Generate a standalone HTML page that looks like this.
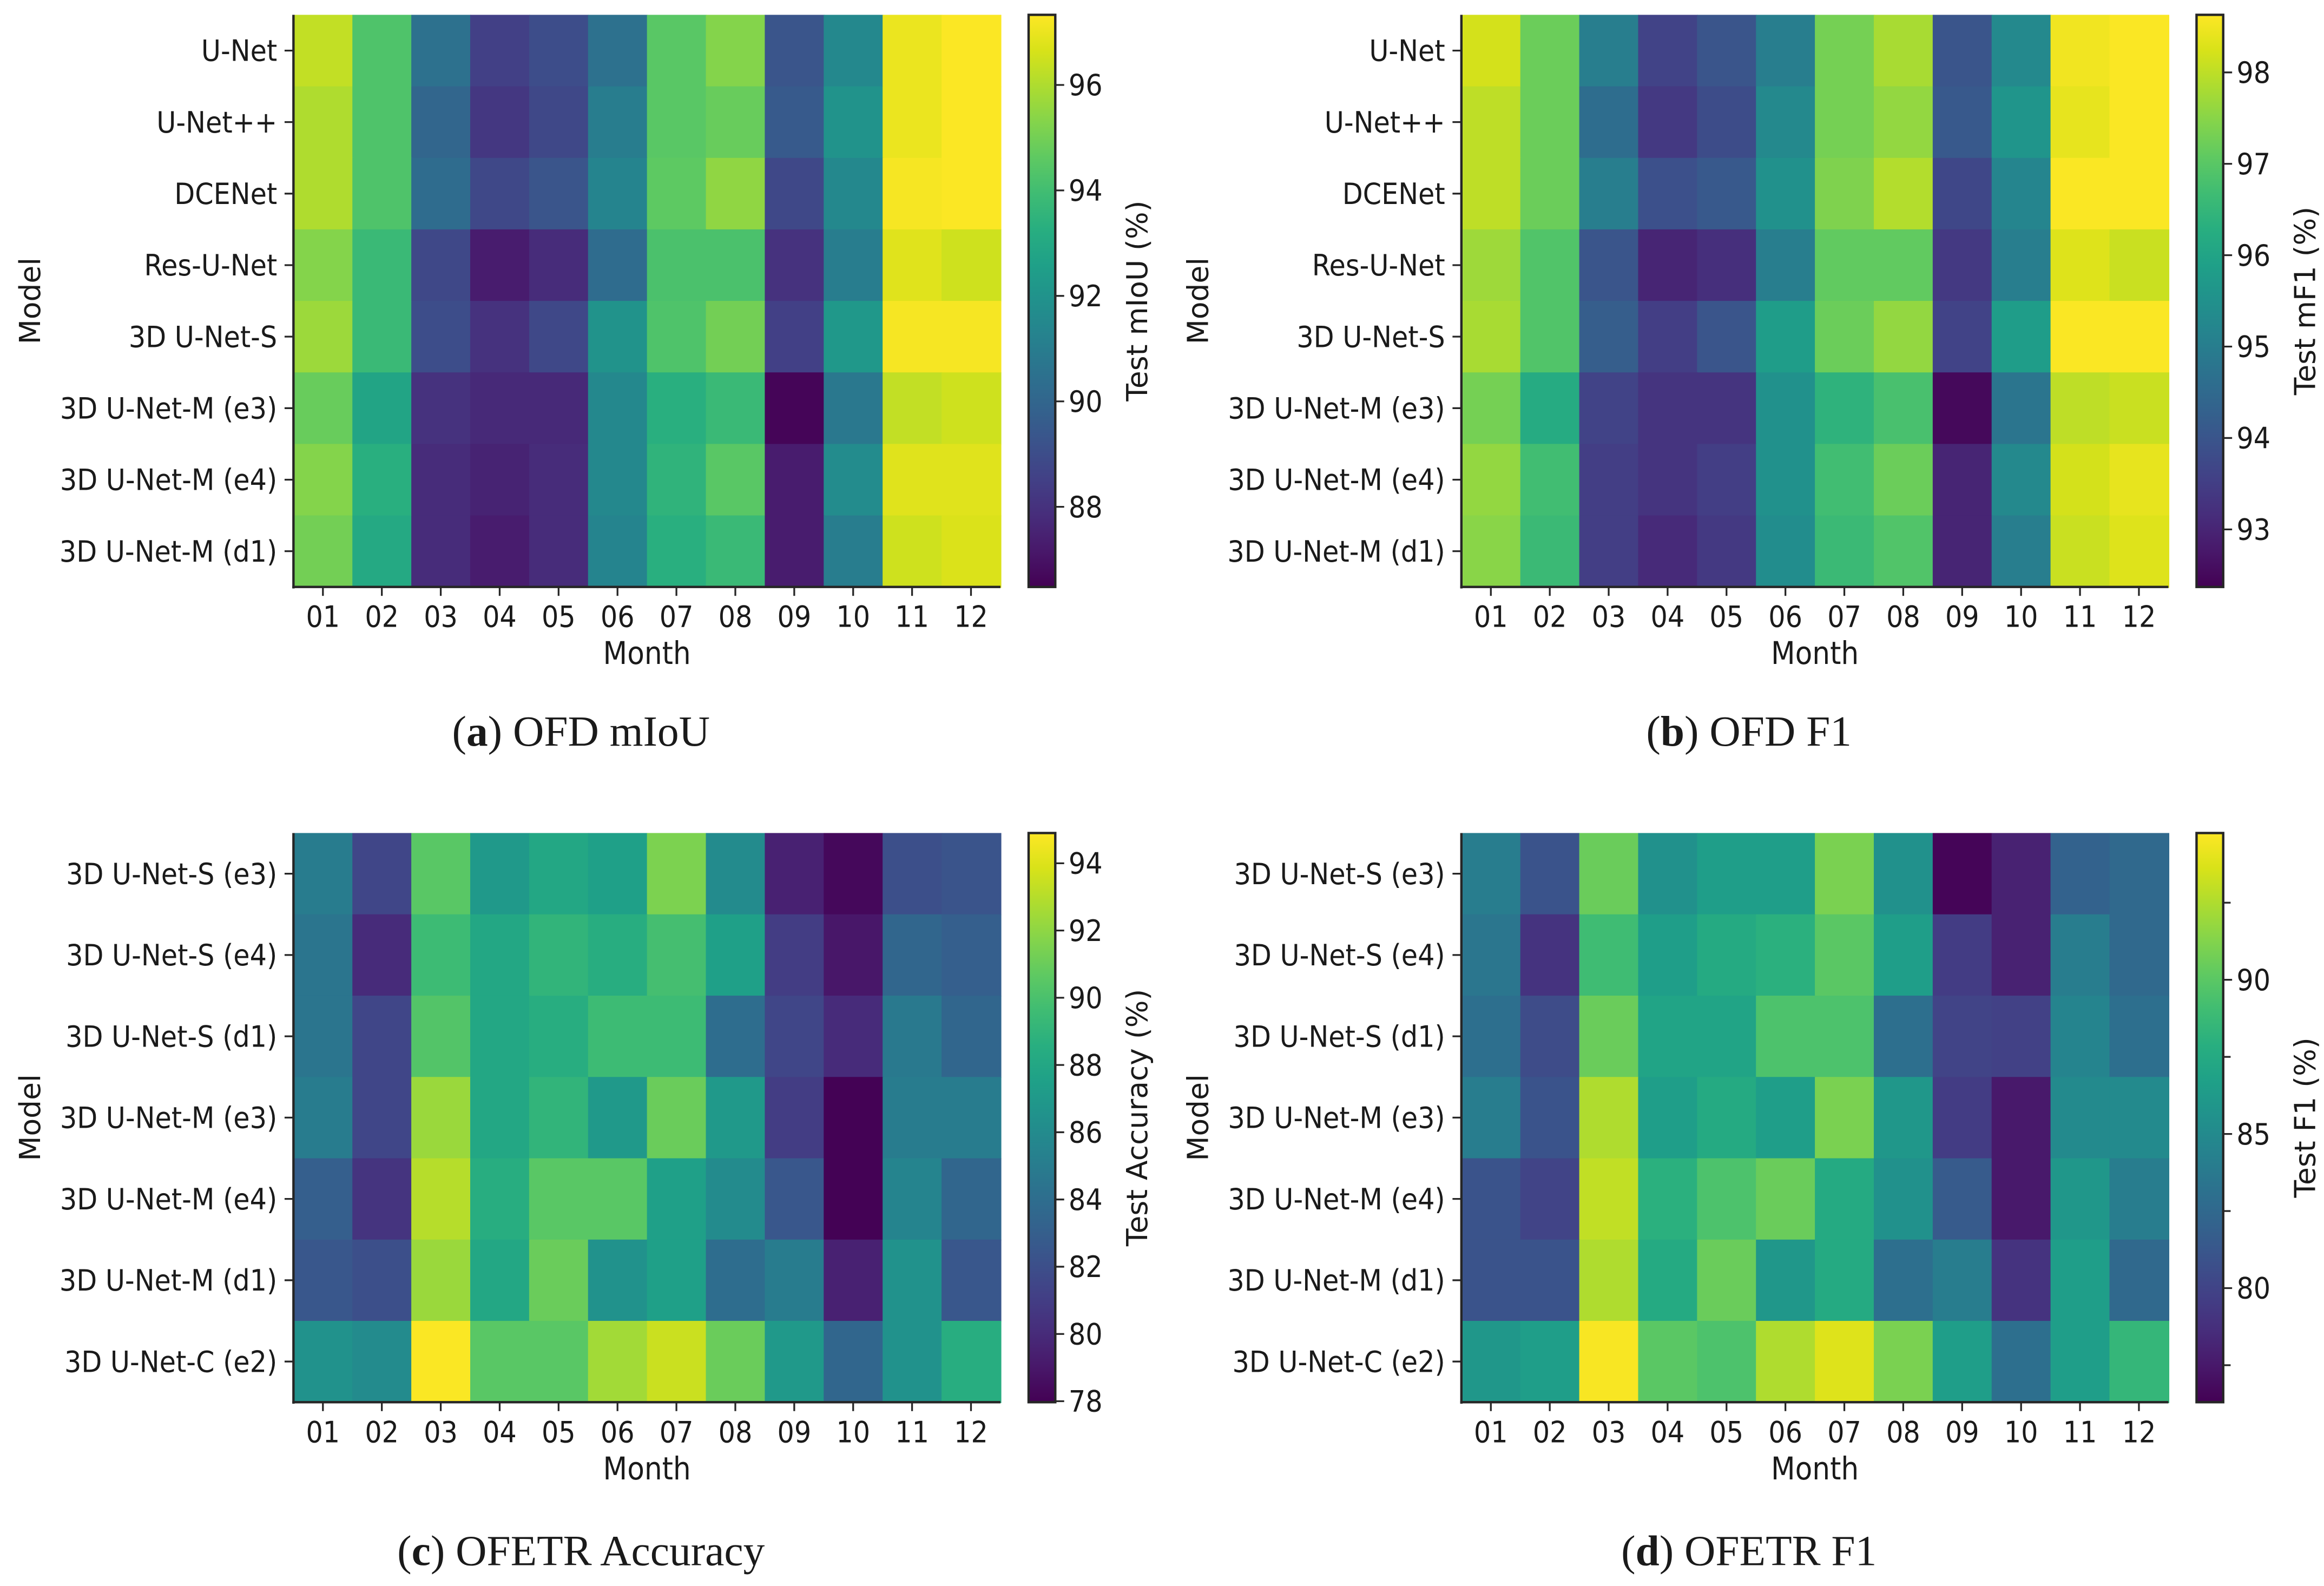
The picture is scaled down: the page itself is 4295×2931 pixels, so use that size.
<!DOCTYPE html>
<html><head><meta charset="utf-8">
<style>
html,body{margin:0;padding:0;background:#fff;}
svg{display:block;}
.tk{font-family:"DejaVu Sans Condensed","DejaVu Sans","Liberation Sans",sans-serif;font-stretch:condensed;font-size:20px;fill:#1a1a1a;}
.al{font-family:"DejaVu Sans","Liberation Sans",sans-serif;font-size:19.5px;fill:#1a1a1a;}
.al2{font-family:"DejaVu Sans Condensed","DejaVu Sans","Liberation Sans",sans-serif;font-stretch:condensed;font-size:21px;fill:#1a1a1a;}
.cap{font-family:"Liberation Serif",serif;font-size:29px;fill:#1a1a1a;}
</style></head>
<body>
<svg id="fig" xmlns="http://www.w3.org/2000/svg" width="4295" height="2931" viewBox="0 0 1568 1070" preserveAspectRatio="none">
<defs>
<linearGradient id="vir" x1="0" y1="1" x2="0" y2="0"></linearGradient>
</defs>
</svg>
<script>
const months = ["01","02","03","04","05","06","07","08","09","10","11","12"];
const modelsTop = ["U-Net","U-Net++","DCENet","Res-U-Net","3D U-Net-S","3D U-Net-M (e3)","3D U-Net-M (e4)","3D U-Net-M (d1)"];
const modelsBot = ["3D U-Net-S (e3)","3D U-Net-S (e4)","3D U-Net-S (d1)","3D U-Net-M (e3)","3D U-Net-M (e4)","3D U-Net-M (d1)","3D U-Net-C (e2)"];
const miouValues = [
 [96.3,94.3,90.5,88.5,89.0,90.5,94.5,95.3,89.3,91.5,97.0,97.3],
 [96.0,94.3,90.0,88.2,88.8,91.0,94.5,94.8,89.5,92.0,97.0,97.3],
 [96.0,94.3,90.3,88.8,89.3,91.3,94.6,95.5,88.8,91.5,97.2,97.3],
 [95.3,93.8,88.8,87.3,87.8,90.3,94.2,94.2,88.0,91.0,96.8,96.5],
 [95.7,93.8,89.0,88.0,88.8,92.0,94.3,95.0,88.5,92.2,97.2,97.2],
 [94.8,92.8,88.0,87.7,87.7,91.5,93.3,93.8,86.6,90.8,96.3,96.5],
 [95.3,93.3,87.8,87.5,87.8,91.5,93.5,94.5,87.3,91.7,96.8,96.8],
 [95.0,93.0,87.8,87.3,87.8,91.3,93.3,93.8,87.3,91.0,96.5,96.7]];
const mf1Values = [
 [98.2,97.2,95.0,93.6,94.0,95.0,97.3,97.8,94.0,95.3,98.5,98.6],
 [98.0,97.2,94.6,93.4,93.8,95.3,97.3,97.6,94.1,95.6,98.4,98.6],
 [98.0,97.2,95.0,93.9,94.1,95.5,97.4,97.9,93.7,95.2,98.6,98.6],
 [97.7,96.9,94.0,93.0,93.2,95.0,97.1,97.1,93.4,95.0,98.3,98.1],
 [97.8,96.9,94.2,93.5,94.0,95.8,97.2,97.6,93.6,95.8,98.6,98.6],
 [97.3,96.2,93.6,93.3,93.3,95.5,96.4,96.8,92.5,94.8,98.0,98.1],
 [97.6,96.7,93.5,93.3,93.5,95.5,96.7,97.2,93.0,95.3,98.2,98.4],
 [97.5,96.6,93.5,93.1,93.4,95.4,96.6,96.9,93.0,95.0,98.1,98.3]];
const accValues = [
 [85.0,81.5,90.5,87.0,88.0,87.5,91.5,86.0,79.5,78.3,82.0,82.3],
 [84.5,80.0,89.5,88.0,89.0,88.5,89.8,87.5,81.0,79.0,83.5,83.0],
 [84.5,81.5,90.3,88.0,88.5,89.5,89.5,84.0,81.5,80.0,84.8,83.5],
 [85.0,81.5,92.3,88.0,89.0,87.0,91.0,87.0,81.0,78.0,85.0,85.0],
 [83.0,80.5,93.0,88.5,90.5,90.5,87.5,86.0,82.5,78.0,85.5,83.5],
 [82.5,82.0,92.3,88.0,91.0,86.5,87.5,84.0,85.0,79.5,86.5,82.5],
 [86.5,86.0,94.8,90.5,90.5,92.5,93.5,91.0,87.0,83.5,86.5,88.5]];
const f1Values = [
 [84.0,81.0,90.5,85.5,86.5,86.5,91.0,85.5,76.5,78.0,82.0,82.5],
 [83.5,79.0,89.0,86.5,87.5,88.0,90.0,86.5,79.5,78.0,84.0,82.5],
 [83.0,80.5,90.5,87.0,87.0,89.5,89.5,83.0,80.0,79.8,84.5,83.0],
 [84.0,81.0,92.5,86.5,87.5,86.5,91.0,86.0,79.5,77.5,85.0,85.0],
 [81.0,80.0,93.0,88.0,89.5,90.5,87.5,85.5,81.5,77.5,86.0,84.0],
 [81.0,81.0,92.5,87.5,90.5,86.0,87.5,83.0,84.0,79.0,86.5,82.5],
 [86.0,86.5,94.6,90.0,89.5,92.5,93.8,91.0,86.5,83.0,86.5,88.5]];
const miouTicks = [88,90,92,94,96];
const mf1Ticks = [93,94,95,96,97,98];
const accTicks = [78,80,82,84,86,88,90,92,94];
const f1Ticks = [80,85,90];
const f1MinorTicks = [77.5,82.5,87.5,92.5];
const miouRange = [86.48,97.33];
const mf1Range = [92.37,98.63];
const accRange = [77.97,94.9];
const f1Range = [76.3,94.76];

const VIR = ["#440154","#48186a","#472d7b","#424086","#3b528b","#33638d","#2c728e","#26828e","#21918c","#1fa088","#28ae80","#3fbc73","#5ec962","#84d44b","#addc30","#d8e219","#fde725"];
function hex(h){return [parseInt(h.substr(1,2),16),parseInt(h.substr(3,2),16),parseInt(h.substr(5,2),16)];}
function viridis(t){t=Math.max(0,Math.min(1,t));const p=t*(VIR.length-1);const i=Math.min(VIR.length-2,Math.floor(p));const f=p-i;const a=hex(VIR[i]),b=hex(VIR[i+1]);
 return "rgb("+a.map((v,k)=>Math.round(v+(b[k]-v)*f)).join(",")+")";}
const NS="http://www.w3.org/2000/svg";
const svg=document.getElementById('fig');
const grad=document.getElementById('vir');
VIR.forEach((c,i)=>{const s=document.createElementNS(NS,'stop');s.setAttribute('offset',(i/(VIR.length-1)).toFixed(4));s.setAttribute('stop-color',c);grad.appendChild(s);});
function el(tag,attrs,parent){const e=document.createElementNS(NS,tag);for(const k in attrs)e.setAttribute(k,attrs[k]);(parent||svg).appendChild(e);return e;}

function panel(o){
 const g=el('g',{});
 
 
 const nR=o.rows.length,nC=months.length;
 const cw=(o.x1-o.x0)/nC,rh=(o.y1-o.y0)/nR;
 const xs=j=>o.x0+j*cw, ys=i=>o.y0+i*rh;
 const norm=v=>(v-o.range[0])/(o.range[1]-o.range[0]);
 o.vals.forEach((row,i)=>row.forEach((v,j)=>{
  const r=el('rect',{x:xs(j).toFixed(2),y:ys(i).toFixed(2),width:(cw+0.6).toFixed(2),height:(rh+0.6).toFixed(2),fill:viridis(norm(v))},g);
  
  
 }));
 el('line',{x1:o.x0,y1:o.y0,x2:o.x0,y2:o.y1+1,stroke:'#262626','stroke-width':1.6},g);
 el('line',{x1:o.x0-0.8,y1:o.y1,x2:o.x1,y2:o.y1,stroke:'#262626','stroke-width':1.6},g);
 o.rows.forEach((m,i)=>{
  const y=ys(i)+rh/2;
  el('line',{x1:o.x0-6,y1:y,x2:o.x0,y2:y,stroke:'#262626','stroke-width':1.2},g);
  const t=el('text',{x:o.x0-11,y:y+7,'text-anchor':'end',class:'tk'},g);t.textContent=m;
  
  
 });
 months.forEach((m,j)=>{
  const x=xs(j)+cw/2;
  el('line',{x1:x,y1:o.y1,x2:x,y2:o.y1+6,stroke:'#262626','stroke-width':1.2},g);
  const t=el('text',{x:x,y:o.y1+27,'text-anchor':'middle',class:'tk'},g);t.textContent=m;
  
  
 });
 const xt=el('text',{x:(o.x0+o.x1)/2,y:o.y1+52,'text-anchor':'middle',class:'al2'},g);xt.textContent='Month';
 
 
 const my=(o.y0+o.y1)/2;
 const yt=el('text',{x:0,y:0,'text-anchor':'middle',class:'al',transform:`translate(${o.x0-171},${my}) rotate(-90)`},g);yt.textContent='Model';
 
 
 const cbx=o.x1+19,cbw=18;
 const cb=el('rect',{x:cbx,y:o.y0,width:cbw,height:o.y1-o.y0,fill:'url(#vir)',stroke:'#262626','stroke-width':1.6},g);
 
 
 const cy=v=>o.y1-norm(v)*(o.y1-o.y0);
 o.ticks.forEach(v=>{
  const y=cy(v);
  el('line',{x1:cbx+cbw,y1:y,x2:cbx+cbw+6,y2:y,stroke:'#262626','stroke-width':1.2},g);
  const t=el('text',{x:cbx+cbw+9,y:y+7,class:'tk'},g);t.textContent=v;
  
  
 });
 (o.minor||[]).forEach(v=>{const y=cy(v);el('line',{x1:cbx+cbw,y1:y,x2:cbx+cbw+5,y2:y,stroke:'#262626','stroke-width':1.2},g);});
 const ct=el('text',{x:0,y:0,'text-anchor':'middle',class:'al',transform:`translate(${cbx+cbw+62},${my}) rotate(-90)`},g);ct.textContent=o.cbTitle;
 
 
 const cap=el('text',{x:o.capX,y:o.capY,'text-anchor':'middle',class:'cap'},g);
 cap.innerHTML='(<tspan font-weight="bold">'+o.letter+'</tspan>) '+o.cap;
 
 
}
panel({name:'heatmap-ofd-miou',rows:modelsTop,vals:miouValues,range:miouRange,ticks:miouTicks,x0:198,x1:675,y0:10,y1:396,cbTitle:'Test mIoU (%)',letter:'a',cap:'OFD mIoU',capX:392,capY:503});
panel({name:'heatmap-ofd-f1',rows:modelsTop,vals:mf1Values,range:mf1Range,ticks:mf1Ticks,x0:986,x1:1463,y0:10,y1:396,cbTitle:'Test mF1 (%)',letter:'b',cap:'OFD F1',capX:1180,capY:503});
panel({name:'heatmap-ofetr-accuracy',rows:modelsBot,vals:accValues,range:accRange,ticks:accTicks,x0:198,x1:675,y0:562,y1:946,cbTitle:'Test Accuracy (%)',letter:'c',cap:'OFETR Accuracy',capX:392,capY:1056});
panel({name:'heatmap-ofetr-f1',rows:modelsBot,vals:f1Values,range:f1Range,ticks:f1Ticks,minor:f1MinorTicks,x0:986,x1:1463,y0:562,y1:946,cbTitle:'Test F1 (%)',letter:'d',cap:'OFETR F1',capX:1180,capY:1056});
</script>
</body></html>
